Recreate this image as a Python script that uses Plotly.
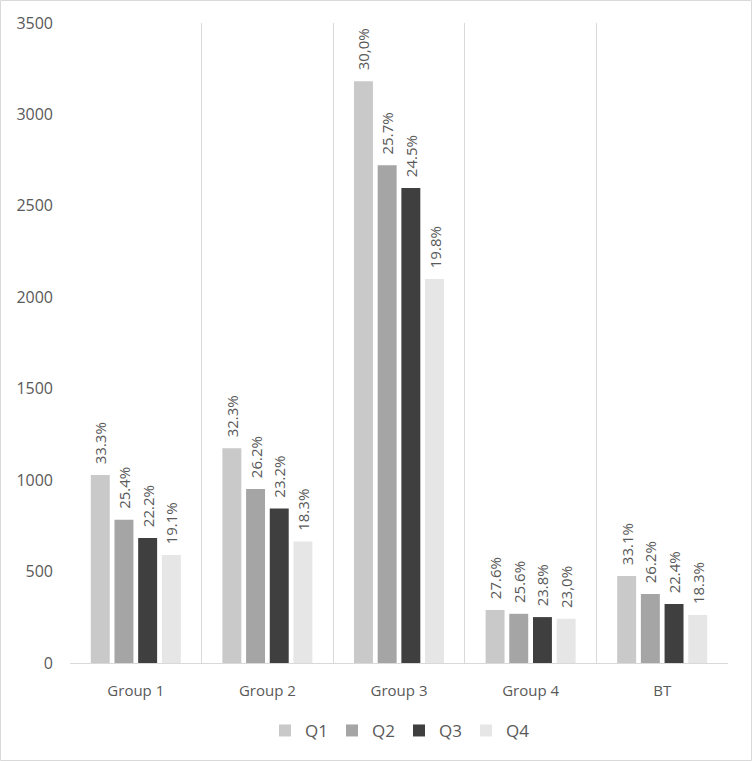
import plotly.graph_objects as go

categories = ["Group 1", "Group 2", "Group 3", "Group 4", "BT"]
series_names = ["Q1", "Q2", "Q3", "Q4"]
q1 = [1028, 1175, 3182, 290, 476]
q2 = [784, 952, 2722, 269, 377]
q3 = [684, 845, 2598, 251, 322]
q4 = [590, 664, 2100, 242, 263]
labels_q1 = ["33.3%", "32.3%", "30,0%", "27.6%", "33.1%"]
labels_q2 = ["25.4%", "26.2%", "25.7%", "25.6%", "26.2%"]
labels_q3 = ["22.2%", "23.2%", "24.5%", "23.8%", "22.4%"]
labels_q4 = ["19.1%", "18.3%", "19.8%", "23,0%", "18.3%"]
y_ticks = [0, 500, 1000, 1500, 2000, 2500, 3000, 3500]

colors = ["#c9c9c9", "#a5a5a5", "#3f3f3f", "#e6e6e6"]
values = [q1, q2, q3, q4]
labels = [labels_q1, labels_q2, labels_q3, labels_q4]

FONT = "Open Sans, Lato, sans-serif"
fig = go.Figure()
for name, vals, labs, col in zip(series_names, values, labels, colors):
    fig.add_trace(go.Bar(
        x=categories, y=vals, name=name,
        marker=dict(color=col, line=dict(width=0)),
        text=["  " + l for l in labs], textposition="outside", textangle=-90,
        constraintext="none",
        textfont=dict(family=FONT, size=15, color="#595959"),
        cliponaxis=False,
    ))

W, H = 752, 761
ml, mr, mt, mb = 70, 24, 23, 98
pw, ph = W - ml - mr, H - mt - mb

fig.update_layout(
    width=W, height=H,
    margin=dict(l=ml, r=mr, t=mt, b=mb),
    paper_bgcolor="white", plot_bgcolor="white",
    barmode="group", bargap=0.28, bargroupgap=0.2,
    font=dict(family=FONT, size=15, color="#595959"),
    showlegend=True,
    legend=dict(orientation="h", x=0.5, xanchor="center", y=-0.078, yanchor="top",
                font=dict(size=17, color="#595959"), itemwidth=30, traceorder="normal",
                entrywidth=22, entrywidthmode="pixels"),
    xaxis=dict(type="category", tickson="boundaries", showgrid=True, gridcolor="#d9d9d9",
               gridwidth=1, showline=True, linecolor="#d9d9d9", ticks="", ticklen=0,
               ticklabelstandoff=14,
               tickfont=dict(size=15, color="#595959"), zeroline=False),
    yaxis=dict(range=[0, 3500], tickvals=y_ticks, showgrid=False, zeroline=False,
               showline=False, ticks="", ticklabelstandoff=16,
               tickfont=dict(size=16, color="#595959")),
    shapes=[dict(type="rect", xref="paper", yref="paper",
                 x0=(0.5 - ml) / pw, x1=1 + (mr - 0.5) / pw,
                 y0=-(mb - 0.5) / ph, y1=1 + (mt - 0.5) / ph,
                 line=dict(color="#d9d9d9", width=1), fillcolor="rgba(0,0,0,0)")],
)

fig.write_html("out.html", config={"displayModeBar": False},
               post_script="document.body.style.margin='0';")
